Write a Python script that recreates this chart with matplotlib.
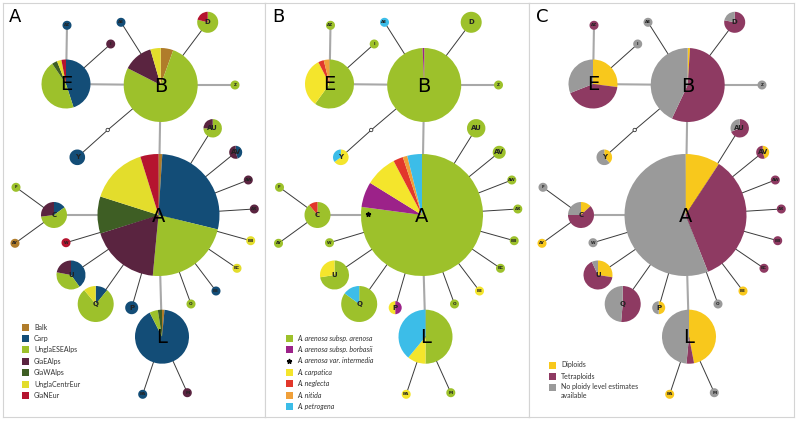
import matplotlib.pyplot as plt
from matplotlib.patches import Circle, Rectangle

plt.rcParams['font.family'] = ['DejaVu Sans']

# --- network data ---------------------------------------------------------
edges = [('E', 'B'), ('E', 'AZ'), ('E', 'I'), ('B', 'AE'), ('B', 'D'), ('B', 'Z'),
         ('B', 'mv'), ('mv', 'Y'), ('B', 'A'), ('A', 'AU'), ('A', 'AV'), ('A', 'AW'),
         ('A', 'AX'), ('A', 'BB'), ('A', 'BC'), ('A', 'BE'), ('A', 'O'), ('A', 'L'),
         ('A', 'P'), ('A', 'Q'), ('A', 'U'), ('A', 'W'), ('A', 'C'), ('C', 'F'),
         ('C', 'AY'), ('L', 'BA'), ('L', 'M')]

# panel A: geographic groups
geo_groups = ['Balk', 'Carp', 'UnglaESEAlps', 'GlaEAlps', 'GlaWAlps', 'UnglaCentrEur', 'GlaNEur']
geo_share = {
    'A': [1, 27.8, 22.7, 18.6, 9.8, 15.3, 4.8],
    'B': [5.5, 0, 77, 13, 0, 4.5, 0],
    'E': [0, 45, 45.5, 0, 3.5, 3, 3],
    'L': [1.5, 91, 5, 0, 2.5, 0, 0],
    'Q': [0, 11, 78, 0, 0, 11, 0],
    'U': [0, 40, 38, 22, 0, 0, 0],
    'C': [0, 15, 58, 27, 0, 0, 0],
    'D': [0, 0, 79, 0, 0, 0, 21],
    'Y': [0, 1, 0, 0, 0, 0, 0],
    'AU': [0, 0, 75, 25, 0, 0, 0],
    'AV': [0, 45, 0, 55, 0, 0, 0],
    'P': [0, 1, 0, 0, 0, 0, 0],
    'AZ': [0, 1, 0, 0, 0, 0, 0],
    'AE': [0, 1, 0, 0, 0, 0, 0],
    'I': [0, 0, 0, 1, 0, 0, 0],
    'Z': [0, 0, 1, 0, 0, 0, 0],
    'AW': [0, 0, 0, 1, 0, 0, 0],
    'AX': [0, 0, 0, 1, 0, 0, 0],
    'BB': [0, 0, 0, 0, 0, 1, 0],
    'BC': [0, 0, 0, 0, 0, 1, 0],
    'BE': [0, 1, 0, 0, 0, 0, 0],
    'O': [0, 0, 1, 0, 0, 0, 0],
    'M': [0, 0, 0, 1, 0, 0, 0],
    'BA': [0, 1, 0, 0, 0, 0, 0],
    'W': [0, 0, 0, 0, 0, 0, 1],
    'AY': [1, 0, 0, 0, 0, 0, 0],
    'F': [0, 0, 1, 0, 0, 0, 0],
}

# panel B: taxa
taxa = ['A. arenosa subsp. arenosa', 'A. arenosa subsp. borbasii', 'A. carpatica',
        'A. neglecta', 'A. nitida', 'A. petrogena']
taxa_share = {
    'A': [77.2, 6.7, 8.5, 2.6, 1.2, 3.9],
    'B': [99.3, 0.7, 0, 0, 0, 0],
    'E': [60, 0, 32.5, 3.7, 3.8, 0],
    'L': [50, 0, 11, 0, 0, 39],
    'Q': [85, 0, 0, 0, 0, 15],
    'U': [72.5, 0, 27.5, 0, 0, 0],
    'C': [89, 0, 0, 11, 0, 0],
    'D': [1, 0, 0, 0, 0, 0],
    'Y': [0, 0, 65, 0, 0, 35],
    'AU': [1, 0, 0, 0, 0, 0],
    'AV': [1, 0, 0, 0, 0, 0],
    'P': [0, 50, 50, 0, 0, 0],
    'AZ': [1, 0, 0, 0, 0, 0],
    'AE': [0, 0, 0, 0, 0, 1],
    'I': [1, 0, 0, 0, 0, 0],
    'Z': [1, 0, 0, 0, 0, 0],
    'AW': [1, 0, 0, 0, 0, 0],
    'AX': [1, 0, 0, 0, 0, 0],
    'BB': [1, 0, 0, 0, 0, 0],
    'BC': [1, 0, 0, 0, 0, 0],
    'BE': [0, 0, 1, 0, 0, 0],
    'O': [1, 0, 0, 0, 0, 0],
    'M': [1, 0, 0, 0, 0, 0],
    'BA': [0, 0, 1, 0, 0, 0],
    'W': [1, 0, 0, 0, 0, 0],
    'AY': [1, 0, 0, 0, 0, 0],
    'F': [1, 0, 0, 0, 0, 0],
}
intermedia_label = 'A. arenosa var. intermedia'

# panel C: ploidy
ploidy = ['Diploids', 'Tetraploids', 'No ploidy level estimates\navailable']
ploidy_share = {
    'A': [9.2, 34.8, 56],
    'B': [1, 56, 43],
    'E': [27, 42, 31],
    'L': [47, 4.5, 48.5],
    'Q': [0, 51.4, 48.6],
    'U': [27.5, 65.5, 7],
    'C': [13, 62, 25],
    'D': [0, 78, 22],
    'Y': [38, 0, 62],
    'AU': [0, 69, 31],
    'AV': [45, 55, 0],
    'P': [50, 0, 50],
    'AZ': [0, 1, 0],
    'AE': [0, 0, 1],
    'I': [0, 0, 1],
    'Z': [0, 0, 1],
    'AW': [0, 1, 0],
    'AX': [0, 1, 0],
    'BB': [0, 1, 0],
    'BC': [0, 1, 0],
    'BE': [1, 0, 0],
    'O': [0, 0, 1],
    'M': [0, 0, 1],
    'BA': [1, 0, 0],
    'W': [0, 0, 1],
    'AY': [1, 0, 0],
    'F': [0, 0, 1],
}

# --- layout (pixel position inside a panel, radius) -----------------------
layout = {
    'A': (158.5, 215, 61), 'B': (160.7, 85, 37), 'E': (66, 84, 24.5),
    'L': (162, 336.7, 27), 'Q': (95.7, 304, 18), 'U': (71, 275, 14.5),
    'C': (54, 215, 13), 'D': (207.7, 22.3, 10.5), 'Y': (77.3, 157.3, 7.8),
    'AU': (212.7, 128.3, 9.2), 'AV': (235.7, 152.3, 6.5), 'P': (131.7, 307.7, 6.5),
    'AZ': (67, 25.3, 4.5), 'AE': (121, 22.3, 4.5), 'I': (110.7, 44, 4.5),
    'Z': (235, 85, 4.5), 'AW': (248.3, 180, 4.5), 'AX': (254.3, 209, 4.5),
    'BB': (250.7, 240.7, 4.5), 'BC': (237, 268.3, 4.5), 'BE': (216, 291, 4.5),
    'O': (191, 304, 4.5), 'M': (187.3, 392.7, 4.5), 'BA': (142.7, 394.3, 4.5),
    'W': (66, 242.7, 4.5), 'AY': (15, 243.3, 4.5), 'F': (16, 187.3, 4.5),
    'mv': (107.7, 130, 1.7),
}
star_pos = (104.5, 214)
light_edges = {('E', 'B'), ('E', 'AZ'), ('B', 'Z'), ('B', 'A'), ('A', 'C'), ('A', 'L')}
big = ['A', 'B', 'E', 'L']
mid = ['Q', 'U', 'C', 'D', 'Y', 'AU', 'AV', 'P']

geo_colors = ['#b07c2a', '#134d77', '#9dc12b', '#5a2440', '#3e5e24', '#e3dd2c', '#b5142f']
taxa_colors = ['#9dc12b', '#9c2289', '#f4e52c', '#e2372b', '#f0a03a', '#3cbde8']
ploidy_colors = ['#f8c81c', '#8e3a62', '#9a9a9a']

fig = plt.figure(figsize=(7.97, 4.21), dpi=100)
W, H = 797, 421
panels = [(3, 265, 0.0), (265, 529, 263.5), (529, 794, 527.0)]
legend_top = {'A': 327, 'B': 338, 'C': 365}


def draw_panel(ax, letter, share, colors, labels):
    for a, b in edges:
        xa, ya, _ = layout[a]
        xb, yb, _ = layout[b]
        if (a, b) in light_edges:
            ax.plot([xa, xb], [ya, yb], color='#a8a8a8', lw=1.5, zorder=1)
        else:
            ax.plot([xa, xb], [ya, yb], color='#3a3a3a', lw=0.7, zorder=1)
    for name, vals in share.items():
        x, y, r = layout[name]
        ax.pie(vals, colors=colors, center=(x, y), radius=r, startangle=270,
               counterclock=True, frame=True,
               wedgeprops=dict(linewidth=0, zorder=2))
        if name in big:
            ax.text(x, y + 1, name, fontsize=14, ha='center', va='center', zorder=5)
        elif name in mid:
            ax.text(x, y, name, fontsize=5, ha='center', va='center',
                    fontweight='bold', color='#222222', zorder=5)
        else:
            ax.text(x, y, name, fontsize=3, ha='center', va='center',
                    fontweight='bold', color='#222222', zorder=5)
    mx, my, mr = layout['mv']
    ax.add_patch(Circle((mx, my), mr, facecolor='white', edgecolor='#333333',
                        lw=0.6, zorder=3))
    ax.text(9, 17, letter, fontsize=13, ha='left', va='center')

    # legend
    italic = letter == 'B'
    lx, ly, step = 22, legend_top[letter], 11.4
    rows = list(zip(labels, colors))
    if italic:
        rows.insert(2, (intermedia_label, None))
    for i, (lab, col) in enumerate(rows):
        yy = ly + i * step
        if col is None:
            ax.plot(lx + 3.5, yy, marker='*', color='black', ms=3.5, zorder=4)
        else:
            ax.add_patch(Rectangle((lx, yy - 3.5), 7, 7, facecolor=col,
                                   edgecolor='none', zorder=4))
        if '\n' in lab:
            ax.text(lx + 12, yy - 4.5, lab, fontsize=5, va='top', family='Lato',
                    color='#333333', linespacing=1.3)
        else:
            ax.text(lx + 12, yy, lab, fontsize=5, va='center', family='Lato',
                    style='italic' if italic else 'normal', color='#333333')


for (left, right, off), letter, share, colors, labels in zip(
        panels, 'ABC',
        [geo_share, taxa_share, ploidy_share],
        [geo_colors, taxa_colors, ploidy_colors],
        [geo_groups, taxa, ploidy]):
    ax = fig.add_axes([left / W, (H - 417) / H, (right - left) / W, (417 - 3) / H])
    draw_panel(ax, letter, share, colors, labels)
    if letter == 'B':
        ax.plot(*star_pos, marker='*', color='black', ms=3.5, zorder=4)
    ax.set_aspect('auto')
    ax.set_xlim(left - off, right - off)
    ax.set_ylim(417, 3)
    ax.set_xticks([])
    ax.set_yticks([])
    for s in ax.spines.values():
        s.set_color('#d4d4d4')
        s.set_linewidth(0.8)

fig.savefig('out.png', dpi=100)
